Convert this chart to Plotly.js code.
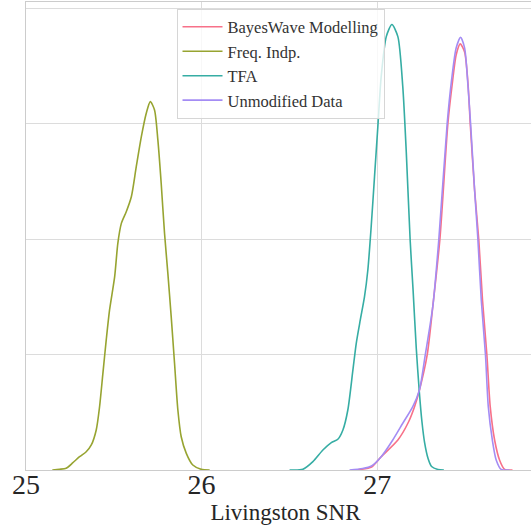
<!DOCTYPE html>
<html>
<head>
<meta charset="utf-8">
<script src="https://cdn.plot.ly/plotly-3.0.1.min.js"></script>
<style>
html,body{margin:0;padding:0;overflow:hidden;background:#fff;}
#chart{width:546px;height:529px;}
</style>
</head>
<body>
<div id="chart"></div>
<script>
// Series names
const seriesNames = ["BayesWave Modelling", "Freq. Indp.", "TFA", "Unmodified Data"];
const seriesColors = ["#f77189", "#97a431", "#36ada4", "#a48cf4"];

// BayesWave Modelling density
const bayesX = [26.871, 26.900, 26.968, 27.023, 27.118, 27.175, 27.213, 27.241, 27.285, 27.317, 27.357, 27.403, 27.427, 27.450, 27.473, 27.498, 27.518, 27.530, 27.555, 27.579, 27.600, 27.625, 27.644, 27.669, 27.697, 27.726, 27.771];
const bayesY = [0, 0.004, 0.026, 0.115, 0.260, 0.405, 0.549, 0.693, 0.997, 1.417, 1.993, 3.004, 3.336, 3.596, 3.692, 3.622, 3.336, 3.004, 2.426, 1.993, 1.473, 0.997, 0.549, 0.260, 0.087, 0.006, 0];

// Freq. Indp. density
const freqX = [25.150, 25.191, 25.229, 25.267, 25.305, 25.343, 25.372, 25.400, 25.419, 25.438, 25.457, 25.476, 25.505, 25.523, 25.543, 25.571, 25.600, 25.628, 25.657, 25.685, 25.708, 25.732, 25.751, 25.770, 25.789, 25.808, 25.827, 25.846, 25.865, 25.884, 25.913, 25.950, 25.998, 26.046];
const freqY = [0, 0.006, 0.015, 0.063, 0.115, 0.158, 0.217, 0.347, 0.548, 0.837, 1.127, 1.387, 1.675, 1.964, 2.137, 2.238, 2.368, 2.628, 2.888, 3.091, 3.192, 3.120, 2.860, 2.484, 2.051, 1.704, 1.329, 0.925, 0.520, 0.288, 0.144, 0.043, 0.006, 0];

// TFA density
const tfaX = [26.501, 26.577, 26.634, 26.691, 26.739, 26.776, 26.805, 26.833, 26.862, 26.881, 26.904, 26.928, 26.947, 26.966, 26.985, 27.004, 27.023, 27.052, 27.084, 27.118, 27.146, 27.166, 27.188, 27.205, 27.223, 27.240, 27.255, 27.270, 27.290, 27.310, 27.346, 27.380];
const tfaY = [0, 0.006, 0.072, 0.173, 0.237, 0.266, 0.347, 0.520, 0.867, 1.098, 1.300, 1.502, 1.733, 2.108, 2.542, 2.975, 3.408, 3.755, 3.860, 3.755, 3.322, 2.750, 1.990, 1.550, 1.050, 0.680, 0.420, 0.240, 0.100, 0.030, 0.005, 0];

// Unmodified Data density
const unmodX = [26.843, 26.917, 26.968, 27.023, 27.089, 27.146, 27.203, 27.241, 27.274, 27.317, 27.351, 27.399, 27.424, 27.450, 27.475, 27.498, 27.517, 27.532, 27.555, 27.574, 27.593, 27.617, 27.633, 27.656, 27.678, 27.706, 27.754];
const unmodY = [0, 0.013, 0.035, 0.115, 0.260, 0.405, 0.549, 0.693, 0.997, 1.417, 1.993, 3.004, 3.380, 3.657, 3.750, 3.657, 3.336, 3.004, 2.426, 1.993, 1.473, 0.997, 0.549, 0.260, 0.087, 0.006, 0];

// Tick labels
const xTickVals = [25, 26, 27];
const xTickText = ["25", "26", "27"];

const xs = [bayesX, freqX, tfaX, unmodX];
const ys = [bayesY, freqY, tfaY, unmodY];

const traces = seriesNames.map((name, i) => ({
  type: "scatter",
  mode: "lines",
  name: name,
  x: xs[i],
  y: ys[i],
  line: {color: seriesColors[i], width: 1.6, shape: "spline", smoothing: 0.7}
}));

const fontFam = "Liberation Serif, DejaVu Serif, serif";
const layout = {
  width: 546,
  height: 529,
  margin: {l: 26, r: 1, t: 2, b: 59},
  paper_bgcolor: "#ffffff",
  plot_bgcolor: "#ffffff",
  font: {family: fontFam, color: "#262626"},
  showlegend: true,
  legend: {
    x: 0.290, y: 0.986, xanchor: "left", yanchor: "top",
    itemwidth: 40,
    bgcolor: "rgba(255,255,255,0.8)",
    bordercolor: "#d6d6d6", borderwidth: 1,
    font: {family: fontFam, size: 16.5, color: "#333333"}
  },
  xaxis: {
    range: [25, 27.956],
    tickmode: "array",
    tickvals: xTickVals,
    ticktext: xTickText,
    ticks: "",
    ticklabelstandoff: -11,
    tickfont: {family: fontFam, size: 28, color: "#262626"},
    showgrid: true, gridcolor: "#dcdcdc", gridwidth: 1,
    zeroline: false,
    showline: true, linecolor: "#cccccc", linewidth: 1, mirror: true,
    title: {text: "Livingston SNR", font: {family: fontFam, size: 23, color: "#262626"}, standoff: 0}
  },
  yaxis: {
    range: [0, 4.055],
    dtick: 1, tick0: 0,
    showticklabels: false,
    ticks: "",
    showgrid: true, gridcolor: "#dcdcdc", gridwidth: 1,
    zeroline: false,
    showline: true, linecolor: "#cccccc", linewidth: 1, mirror: true
  }
};

Plotly.newPlot("chart", traces, layout, {displayModeBar: false, staticPlot: true});
</script>
</body>
</html>
